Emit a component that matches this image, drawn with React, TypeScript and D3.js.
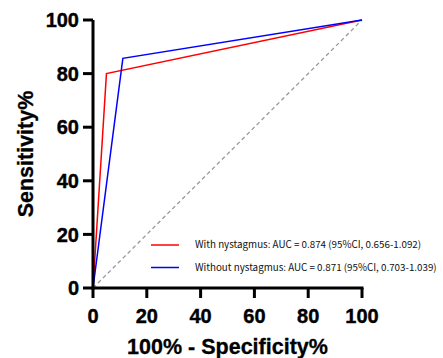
import React from "react";
import * as d3 from "d3";

// ROC points (100% - specificity, sensitivity)
const withNystagmus = [
  { x: 0, y: 0 },
  { x: 5, y: 80 },
  { x: 100, y: 100 },
];
const withoutNystagmus = [
  { x: 0, y: 0 },
  { x: 11.1, y: 85.7 },
  { x: 100, y: 100 },
];
const reference = [
  { x: 0, y: 0 },
  { x: 100, y: 100 },
];
const xTicks = [0, 20, 40, 60, 80, 100];
const yTicks = [0, 20, 40, 60, 80, 100];
const legendItems = [
  { label: "With nystagmus: AUC = 0.874 (95%CI, 0.656-1.092)", color: "#ff0000" },
  { label: "Without nystagmus: AUC = 0.871 (95%CI, 0.703-1.039)", color: "#0000ff" },
];

export default function App() {
  const width = 443;
  const height = 358;
  const margin = { left: 93, top: 20, right: 81, bottom: 70 };

  const x = d3.scaleLinear().domain([0, 100]).range([margin.left, width - margin.right]);
  const y = d3.scaleLinear().domain([0, 100]).range([height - margin.bottom, margin.top]);

  const line = d3
    .line<{ x: number; y: number }>()
    .x((d) => x(d.x))
    .y((d) => y(d.y));

  const tickFont = "'Liberation Sans', Arial, sans-serif";

  return (
    <svg
      width={width}
      height={height}
      style={{ position: "absolute", left: 0, top: 0, background: "#fff" }}
    >
      {/* diagonal reference */}
      <path d={line(reference) ?? ""} fill="none" stroke="#999" strokeWidth={1.3} strokeDasharray="4,3" />

      <path d={line(withNystagmus) ?? ""} fill="none" stroke="#ff0000" strokeWidth={1.5} />
      <path d={line(withoutNystagmus) ?? ""} fill="none" stroke="#0000ff" strokeWidth={1.5} />

      {/* y axis */}
      <line x1={x(0)} x2={x(0)} y1={y(0) + 1.5} y2={y(100)} stroke="#000" strokeWidth={3} />
      {yTicks.map((t) => (
        <g key={"y" + t}>
          <line x1={x(0) - 10} x2={x(0)} y1={y(t)} y2={y(t)} stroke="#000" strokeWidth={3} />
          <text
            x={x(0) - 14}
            y={y(t)}
            dy="0.36em"
            textAnchor="end"
            fontFamily={tickFont}
            fontWeight={700}
            fontSize={20}
            stroke="#000"
            strokeWidth={0.4}
          >
            {t}
          </text>
        </g>
      ))}

      {/* x axis */}
      <line x1={x(0) - 1.5} x2={x(100) + 1.5} y1={y(0)} y2={y(0)} stroke="#000" strokeWidth={3} />
      {xTicks.map((t) => (
        <g key={"x" + t}>
          <line x1={x(t)} x2={x(t)} y1={y(0)} y2={y(0) + 10} stroke="#000" strokeWidth={3} />
          <text
            x={x(t)}
            y={y(0) + 35}
            textAnchor="middle"
            fontFamily={tickFont}
            fontWeight={700}
            fontSize={20}
            stroke="#000"
            strokeWidth={0.4}
          >
            {t}
          </text>
        </g>
      ))}

      {/* axis titles */}
      <text
        transform={`translate(33,${(y(0) + y(100)) / 2}) rotate(-90)`}
        textAnchor="middle"
        fontFamily={tickFont}
        fontWeight={700}
        fontSize={21.5}
        stroke="#000"
        strokeWidth={0.3}
      >
        Sensitivity%
      </text>
      <text
        x={(x(0) + x(100)) / 2}
        y={354}
        textAnchor="middle"
        fontFamily={tickFont}
        fontWeight={700}
        fontSize={21.5}
        stroke="#000"
        strokeWidth={0.3}
      >
        100% - Specificity%
      </text>

      {/* legend */}
      {legendItems.map((item, i) => {
        const ly = 245 + i * 22.5;
        return (
          <g key={item.label}>
            <line x1={151} x2={179} y1={ly} y2={ly} stroke={item.color} strokeWidth={1.5} />
            <text
              x={195}
              y={ly}
              dy="0.35em"
              fontFamily="'Noto Sans CJK JP', 'Noto Sans', sans-serif"
              fontSize={9.8}
              fill="#111"
            >
              {item.label}
            </text>
          </g>
        );
      })}
    </svg>
  );
}
